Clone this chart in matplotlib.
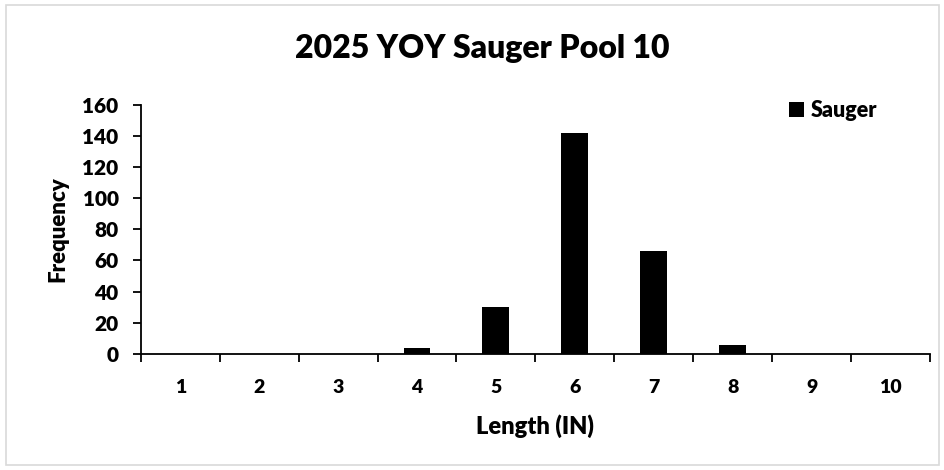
import matplotlib.pyplot as plt
import numpy as np
from matplotlib.patches import Rectangle

# Length classes (inches) and counts
lengths = [1, 2, 3, 4, 5, 6, 7, 8, 9, 10]
sauger = [0, 0, 0, 4, 30, 142, 66, 6, 0, 0]

plt.rcParams['font.family'] = ['Lato', 'DejaVu Sans']
W = 'heavy'

fig = plt.figure(figsize=(9.45, 4.7), dpi=100)
ax = fig.add_axes([0.149, 0.247, 0.835, 0.53])

# light gray chart-area border
fig.patches.append(Rectangle((0.006, 0.01), 0.988, 0.98, transform=fig.transFigure,
                             fill=False, edgecolor='#d9d9d9', linewidth=1.2))

x = np.arange(1, len(lengths) + 1)
ax.bar(x, sauger, width=0.34, color='black', label='Sauger', zorder=3)

ax.set_xlim(0.5, len(lengths) + 0.5)
ax.set_ylim(0, 160)
ax.set_yticks(np.arange(0, 161, 20))

# category labels centred, tick marks between categories
ax.set_xticks(x)
ax.set_xticklabels([str(v) for v in lengths])
ax.set_xticks(np.arange(0.5, len(lengths) + 1, 1), minor=True)
ax.tick_params(axis='x', which='major', length=0, pad=18, labelsize=14)
ax.tick_params(axis='x', which='minor', length=6, width=1.3, direction='out')
ax.tick_params(axis='y', length=6, width=1.3, direction='out', labelsize=15, pad=10)
for lab in ax.get_xticklabels() + ax.get_yticklabels():
    lab.set_fontweight(W)

for s in ['top', 'right']:
    ax.spines[s].set_visible(False)
for s in ['left', 'bottom']:
    ax.spines[s].set_linewidth(1.3)

fig.text(0.51, 0.897, '2025 YOY Sauger Pool 10', fontsize=23, fontweight=W,
         ha='center', va='center')
ax.set_xlabel('Length (IN)', fontsize=17, fontweight=W, labelpad=13)
ax.set_ylabel('Frequency', fontsize=16, fontweight=W, labelpad=10)

leg = ax.legend(loc='upper right', frameon=False, handlelength=0.7,
                handleheight=0.7, handletextpad=0.3, borderaxespad=0.0,
                bbox_to_anchor=(0.944, 1.055), prop={'size': 15.5, 'weight': W})

fig.savefig('out.png', dpi=100)
